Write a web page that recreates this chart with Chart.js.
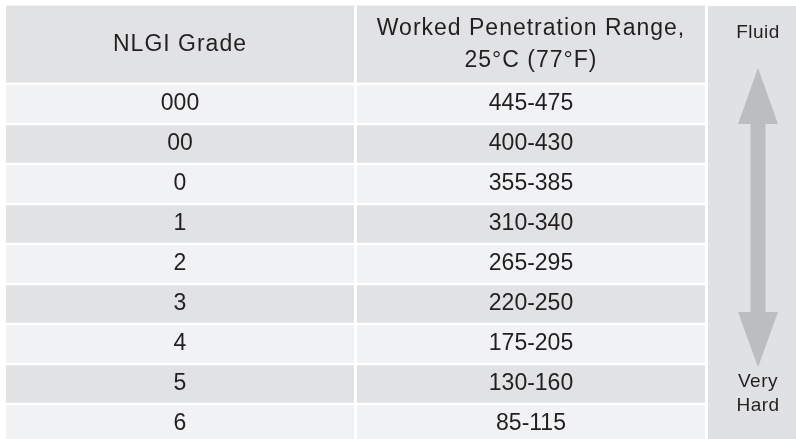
<!DOCTYPE html>
<html>
<head>
<meta charset="utf-8">
<title>NLGI Grades</title>
<script src="https://cdn.jsdelivr.net/npm/chart.js@4.4.1/dist/chart.umd.min.js"></script>
<style>
  html, body { margin: 0; padding: 0; background: #fff; overflow: hidden; }
  #wrap { position: relative; width: 796px; height: 439px; }
</style>
</head>
<body>
<div id="wrap"><canvas id="nlgi-table"></canvas></div>
<script>
'use strict';

// ── Data ────────────────────────────────────────────────
const headerLabels = ['NLGI Grade', 'Worked Penetration Range,\n25°C (77°F)'];
const nlgiGrades   = ['000', '00', '0', '1', '2', '3', '4', '5', '6'];
const penLow       = [445, 400, 355, 310, 265, 220, 175, 130, 85];
const penHigh      = [475, 430, 385, 340, 295, 250, 205, 160, 115];
const scaleEnds    = ['Fluid', 'Very\nHard'];

// ── Layout / style ──────────────────────────────────────
const COL_W       = [348, 348, 100];   // x units (≈ px)
const COL_GAP     = 3;
const X_MAX       = 790;
const HEADER_ROWS = 2;                 // header spans two row slots
const Y_MAX       = 10.875;            // visible row slots
const TEXT_COLOR  = '#231f20';
const DARK        = '#e1e2e4';
const LIGHT       = '#f1f2f4';
const SIDE        = '#e0e1e3';
const ARROW       = '#bcbdc0';
const FONT        = '"Liberation Sans", Arial, Helvetica, sans-serif';

const colStart = COL_W.map((_, c) => COL_W.slice(0, c).reduce((a, w) => a + w + COL_GAP, 0));
const colSpan  = c => [colStart[c], colStart[c] + COL_W[c]];
const colMid   = c => colStart[c] + COL_W[c] / 2;
const rowMid   = i => HEADER_ROWS + i + 0.5;
const shade    = i => (i % 2 ? DARK : LIGHT);

// double-headed arrow in the side column (x offset from centre, y in row slots)
const arrowDx = [0, 20, 7.5, 7.5, 20, 0, -20, -7.5, -7.5, -20, 0];
const arrowY  = [1.6, 3.0, 3.0, 7.7, 7.7, 9.08, 7.7, 7.7, 3.0, 3.0, 1.6];

// ── Text plugin ─────────────────────────────────────────
function drawLines(ctx, text, x, yMid, lineH) {
  const lines = text.split('\n');
  const y0 = yMid - (lines.length - 1) * lineH / 2;
  lines.forEach((ln, k) => ctx.fillText(ln, x, y0 + k * lineH));
}

const tableText = {
  id: 'tableText',
  afterDatasetsDraw(chart) {
    const { ctx, scales: { x, y } } = chart;
    ctx.save();
    ctx.fillStyle    = TEXT_COLOR;
    ctx.textAlign    = 'center';
    ctx.textBaseline = 'middle';

    // header
    ctx.font = `23px ${FONT}`;
    ctx.letterSpacing = '1px';
    headerLabels.forEach((h, c) => {
      drawLines(ctx, h, x.getPixelForValue(colMid(c)), y.getPixelForValue(HEADER_ROWS / 2) + 1, 32);
    });

    // body
    ctx.letterSpacing = '0px';
    nlgiGrades.forEach((g, i) => {
      const py = y.getPixelForValue(rowMid(i));
      ctx.fillText(g, x.getPixelForValue(colMid(0)), py);
      ctx.fillText(`${penLow[i]}-${penHigh[i]}`, x.getPixelForValue(colMid(1)), py);
    });

    // side column
    ctx.font = `19px ${FONT}`;
    ctx.letterSpacing = '0.5px';
    drawLines(ctx, scaleEnds[0], x.getPixelForValue(colMid(2)), y.getPixelForValue(0.725), 24);
    drawLines(ctx, scaleEnds[1], x.getPixelForValue(colMid(2)), y.getPixelForValue(9.75), 24);
    ctx.restore();
  },
};

// ── Chart ───────────────────────────────────────────────
const barBase = {
  type: 'bar',
  grouped: false,
  categoryPercentage: 1,
  borderWidth: 0,
  inflateAmount: 0,
  order: 1,
};

new Chart(document.getElementById('nlgi-table'), {
  type: 'bar',
  data: {
    datasets: [
      {
        type: 'line',
        data: arrowDx.map((dx, k) => ({ x: colMid(2) + dx, y: arrowY[k] })),
        backgroundColor: ARROW,
        borderWidth: 0,
        pointRadius: 0,
        tension: 0,
        fill: 'shape',
        indexAxis: 'x',
        order: 0,
      },
      {
        ...barBase,
        data: headerLabels.map((_, c) => ({ y: HEADER_ROWS / 2, x: colSpan(c) })),
        backgroundColor: DARK,
        barPercentage: 1.925,
      },
      {
        ...barBase,
        data: nlgiGrades.map((_, i) => ({ y: rowMid(i), x: colSpan(0) })),
        backgroundColor: nlgiGrades.map((_, i) => shade(i)),
        barPercentage: 0.94,
      },
      {
        ...barBase,
        data: penLow.map((_, i) => ({ y: rowMid(i), x: colSpan(1) })),
        backgroundColor: penLow.map((_, i) => shade(i)),
        barPercentage: 0.94,
      },
      {
        ...barBase,
        data: [{ y: 5.5, x: colSpan(2) }],
        backgroundColor: SIDE,
        barPercentage: 10.9,
      },
    ],
  },
  options: {
    indexAxis: 'y',
    animation: false,
    responsive: true,
    maintainAspectRatio: false,
    events: [],
    layout: { padding: { top: 4, left: 6, right: 0, bottom: 0 } },
    plugins: { legend: { display: false }, tooltip: { enabled: false } },
    scales: {
      x: { type: 'linear', min: 0, max: X_MAX, offset: false, display: false },
      y: {
        type: 'linear', reverse: true, min: 0, max: Y_MAX, offset: false, display: false,
        afterBuildTicks: s => { s.ticks = Array.from({ length: 11 }, (_, i) => ({ value: i })); },
      },
    },
  },
  plugins: [tableText],
});
</script>
</body>
</html>
